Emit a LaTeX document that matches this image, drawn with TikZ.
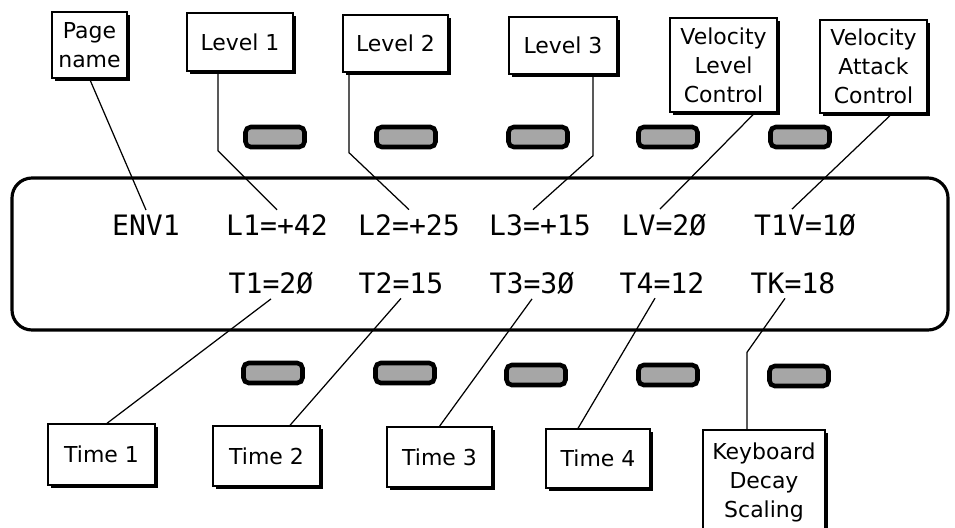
\documentclass[tikz,border=0pt]{standalone}
\usepackage{fontspec}
\setmainfont{DejaVu Sans}
\newfontfamily\lcdfont{DejaVu Sans Mono}
\usetikzlibrary{shadows}

\begin{document}
\begin{tikzpicture}[
    x=0.02cm, y=-0.02cm,
    lblbox/.style={draw, fill=white, line width=0.8pt, align=center, inner sep=1pt, font=\fontsize{12.5}{16.5}\selectfont, drop shadow={shadow xshift=1.6pt, shadow yshift=-1.6pt, fill=black, opacity=1}},
    lcdtxt/.style={font=\lcdfont\fontsize{16}{18}\selectfont, inner sep=2.5pt},
    button/.style={draw=black, line width=2.6pt, fill=black!35, rounded corners=3pt, minimum width=1.18cm, minimum height=0.4cm},
    lead/.style={line width=0.7pt}
]
    \useasboundingbox (0,0) rectangle (955,527);

    % display panel
    \draw[line width=1.8pt, rounded corners=0.4cm] (12,178) rectangle (948,330);

    % buttons above and below the display
    \node[button] (bt1) at (275,137) {};
    \node[button] (bt2) at (406,137) {};
    \node[button] (bt3) at (538,137) {};
    \node[button] (bt4) at (668,137) {};
    \node[button] (bt5) at (800,137) {};
    \node[button] (bb1) at (273,373) {};
    \node[button] (bb2) at (405,373) {};
    \node[button] (bb3) at (536,375) {};
    \node[button] (bb4) at (668,375) {};
    \node[button] (bb5) at (799,376) {};

    % display text
    \node[lcdtxt] (env) at (146,225) {ENV1};
    \node[lcdtxt] (l1) at (277,225) {L1=+42};
    \node[lcdtxt] (l2) at (409,225) {L2=+25};
    \node[lcdtxt] (l3) at (540,225) {L3=+15};
    \node[lcdtxt] (lv) at (664,225) {LV=2Ø};
    \node[lcdtxt] (tv) at (805,225) {T1V=1Ø};
    \node[lcdtxt] (t1) at (271,283) {T1=2Ø};
    \node[lcdtxt] (t2) at (401,283) {T2=15};
    \node[lcdtxt] (t3) at (532,283) {T3=3Ø};
    \node[lcdtxt] (t4) at (662,283) {T4=12};
    \node[lcdtxt] (tk) at (793,283) {TK=18};

    % labels on top
    \node[lblbox, minimum width=1.5cm, minimum height=1.32cm] (pagename) at (89.5,45) {Page\\name};
    \node[lblbox, minimum width=2.12cm, minimum height=1.16cm] (lvl1) at (240,42) {Level 1};
    \node[lblbox, minimum width=2.1cm, minimum height=1.14cm] (lvl2) at (395.5,43.5) {Level 2};
    \node[lblbox, minimum width=2.16cm, minimum height=1.14cm] (lvl3) at (563,45.5) {Level 3};
    \node[lblbox, minimum width=2.14cm, minimum height=1.88cm] (vlc) at (723.5,65) {Velocity\\Level\\Control};
    \node[lblbox, minimum width=2.14cm, minimum height=1.86cm] (vac) at (873.5,66.5) {Velocity\\Attack\\Control};

    % labels below
    \node[lblbox, minimum width=2.14cm, minimum height=1.22cm] (time1) at (101.5,454.5) {Time 1};
    \node[lblbox, minimum width=2.14cm, minimum height=1.2cm] (time2) at (266.5,456) {Time 2};
    \node[lblbox, minimum width=2.1cm, minimum height=1.2cm] (time3) at (439.5,457) {Time 3};
    \node[lblbox, minimum width=2.08cm, minimum height=1.18cm] (time4) at (598,458.5) {Time 4};
    \node[lblbox, minimum width=2.44cm, minimum height=2.1cm] (kds) at (764,482.5) {Keyboard\\Decay\\Scaling};

    % leader lines
    \draw[lead] (pagename.south) -- (env.north);
    \draw[lead] ([xshift=-0.44cm]lvl1.south) -- ++(0,79) -- (l1.north);
    \draw[lead] ([xshift=-0.93cm]lvl2.south) -- ++(0,80) -- (l2.north);
    \draw[lead] ([xshift=0.6cm]lvl3.south) -- ++(0,81) -- ([xshift=-0.14cm]l3.north);
    \draw[lead] ([xshift=0.63cm]vlc.south) -- ([xshift=-0.08cm]lv.north);
    \draw[lead] ([xshift=0.37cm]vac.south) -- ([xshift=-0.26cm]tv.north);
    \draw[lead] ([xshift=0.11cm]time1.north) -- (t1.south);
    \draw[lead] ([xshift=0.47cm]time2.north) -- (t2.south);
    \draw[lead] (time3.north) -- (t3.south);
    \draw[lead] ([xshift=-0.4cm]time4.north) -- ([xshift=-0.14cm]t4.south);
    \draw[lead] ([xshift=-0.34cm]kds.north) -- ++(0,-77) -- ([xshift=-0.16cm]tk.south);
\end{tikzpicture}
\end{document}
